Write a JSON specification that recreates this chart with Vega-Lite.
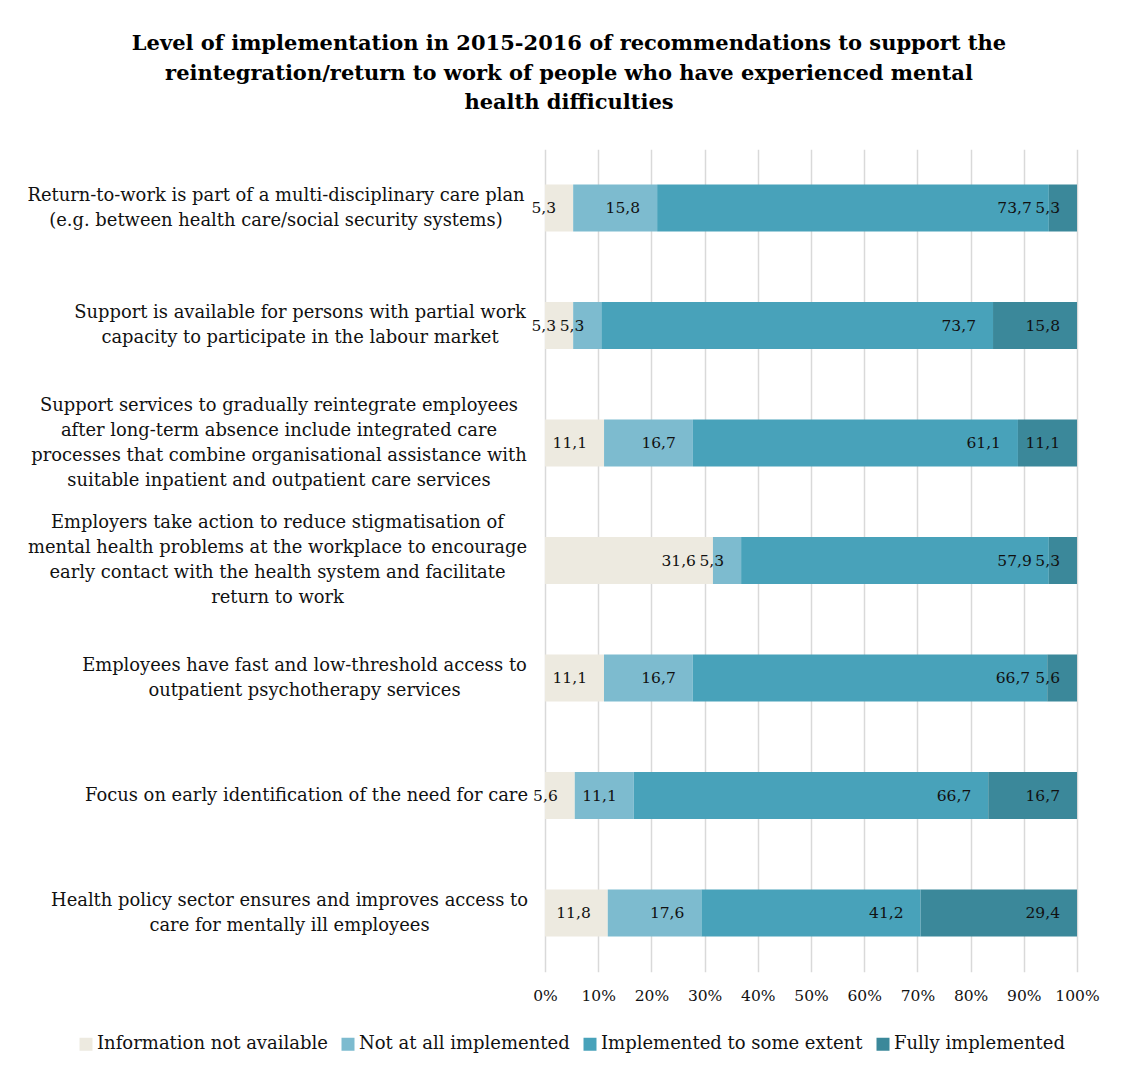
{
  "$schema": "https://vega.github.io/schema/vega-lite/v6.json",
  "width": 532,
  "height": 822.5,
  "autosize": {"type": "none"},
  "padding": {"left": 545, "top": 149.25, "right": 46, "bottom": 101.25},
  "background": "white",
  "config": {
    "locale": {"number": {"decimal": ",", "thousands": ".", "grouping": [3], "currency": ["", " €"]}},
    "font": "DejaVu Serif",
    "view": {"stroke": null}
  },
  "title": {
    "text": [
      "Level of implementation in 2015-2016 of recommendations to support the",
      "reintegration/return to work of people who have experienced mental",
      "health difficulties"
    ],
    "font": "DejaVu Serif",
    "fontSize": 21,
    "fontWeight": "bold",
    "color": "#000000",
    "lineHeight": 29.5,
    "anchor": "middle",
    "frame": "group",
    "dx": -242,
    "offset": 36
  },
  "data": {
    "values": [
      {"item": "Return-to-work is part of a multi-disciplinary care plan|(e.g. between health care/social security systems)", "Information not available": 5.3, "Not at all implemented": 15.8, "Implemented to some extent": 73.7, "Fully implemented": 5.3},
      {"item": "Support is available for persons with partial work|capacity to participate in the labour market", "Information not available": 5.3, "Not at all implemented": 5.3, "Implemented to some extent": 73.7, "Fully implemented": 15.8},
      {"item": "Support services to gradually reintegrate employees|after long-term absence include integrated care|processes that combine organisational assistance with|suitable inpatient and outpatient care services", "Information not available": 11.1, "Not at all implemented": 16.7, "Implemented to some extent": 61.1, "Fully implemented": 11.1},
      {"item": "Employers take action to reduce stigmatisation of|mental health problems at the workplace to encourage|early contact with the health system and facilitate|return to work", "Information not available": 31.6, "Not at all implemented": 5.3, "Implemented to some extent": 57.9, "Fully implemented": 5.3},
      {"item": "Employees have fast and low-threshold access to|outpatient psychotherapy services", "Information not available": 11.1, "Not at all implemented": 16.7, "Implemented to some extent": 66.7, "Fully implemented": 5.6},
      {"item": "Focus on early identification of the need for care", "Information not available": 5.6, "Not at all implemented": 11.1, "Implemented to some extent": 66.7, "Fully implemented": 16.7},
      {"item": "Health policy sector ensures and improves access to|care for mentally ill employees", "Information not available": 11.8, "Not at all implemented": 17.6, "Implemented to some extent": 41.2, "Fully implemented": 29.4}
    ]
  },
  "transform": [
    {"fold": ["Information not available", "Not at all implemented", "Implemented to some extent", "Fully implemented"], "as": ["level", "value"]},
    {"calculate": "indexof(['Information not available','Not at all implemented','Implemented to some extent','Fully implemented'], datum.level)", "as": "k"},
    {"stack": "value", "groupby": ["item"], "sort": [{"field": "k", "order": "ascending"}], "offset": "normalize", "as": ["x0", "x1"]}
  ],
  "encoding": {
    "y": {
      "field": "item",
      "type": "nominal",
      "sort": null,
      "title": null,
      "scale": {"paddingInner": 0.6, "paddingOuter": 0.3},
      "axis": {
        "domain": false,
        "ticks": false,
        "labelExpr": "split(datum.label, '|')",
        "labelAlign": "center",
        "labelBaseline": "middle",
        "labelFont": "DejaVu Serif",
        "labelFontSize": 17.9,
        "labelLineHeight": 25,
        "labelColor": "#111111",
        "labelLimit": 700,
        "labelOffset": {
          "condition": [
            {"test": "indexof(datum.value,'Support services')==0", "value": -37.5},
            {"test": "indexof(datum.value,'Employers')==0", "value": -37.5},
            {"test": "indexof(datum.value,'Focus')==0", "value": 0}
          ],
          "value": -12.5
        },
        "labelPadding": {
          "condition": [
            {"test": "indexof(datum.value,'Return-to-work')==0", "value": 269.5},
            {"test": "indexof(datum.value,'Support is')==0", "value": 245.5},
            {"test": "indexof(datum.value,'Support services')==0", "value": 266.5},
            {"test": "indexof(datum.value,'Employers')==0", "value": 268},
            {"test": "indexof(datum.value,'Employees')==0", "value": 241},
            {"test": "indexof(datum.value,'Focus')==0", "value": 239}
          ],
          "value": 256
        }
      }
    }
  },
  "layer": [
    {
      "mark": {"type": "bar"},
      "encoding": {
        "x": {
          "field": "x0",
          "type": "quantitative",
          "scale": {"domain": [0, 1]},
          "title": null,
          "axis": {
            "format": ".0%",
            "values": [0, 0.1, 0.2, 0.3, 0.4, 0.5, 0.6, 0.7, 0.8, 0.9, 1],
            "grid": true,
            "gridColor": "#d9d9d9",
            "gridWidth": 1.5,
            "domain": false,
            "ticks": false,
            "labelFont": "DejaVu Serif",
            "labelFontSize": 15.5,
            "labelColor": "#111111",
            "labelPadding": 17,
            "labelFlush": false
          }
        },
        "x2": {"field": "x1"},
        "color": {
          "field": "level",
          "type": "nominal",
          "scale": {
            "domain": ["Information not available", "Not at all implemented", "Implemented to some extent", "Fully implemented"],
            "range": ["#EDEAE0", "#7DBBCF", "#48A2BA", "#3B889A"]
          },
          "legend": {
            "title": null,
            "orient": "none",
            "direction": "horizontal",
            "legendX": -468,
            "legendY": 886,
            "symbolType": "square",
            "symbolSize": 169,
            "symbolStrokeWidth": 0,
            "labelFont": "DejaVu Serif",
            "labelFontSize": 18,
            "labelColor": "#111111",
            "labelLimit": 400,
            "labelOffset": 2,
            "columnPadding": 11
          }
        }
      }
    },
    {
      "mark": {"type": "text", "align": "right", "baseline": "middle", "dx": -17, "font": "DejaVu Serif", "fontSize": 15.5, "color": "#111111"},
      "encoding": {
        "x": {"field": "x1", "type": "quantitative"},
        "text": {"field": "value", "type": "quantitative", "format": ".1f"}
      }
    }
  ]
}
